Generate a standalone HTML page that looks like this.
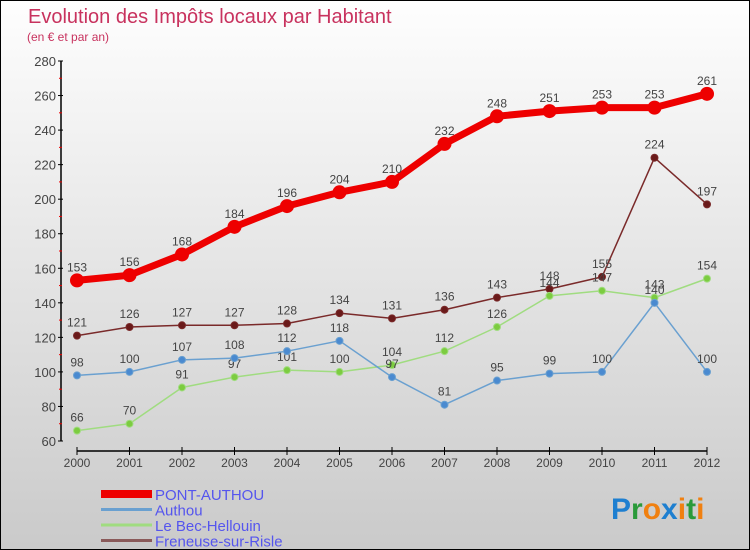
<!DOCTYPE html>
<html><head><meta charset="utf-8"><style>
body{margin:0}
#c{width:750px;height:550px;position:relative;box-sizing:border-box;border:1px solid #000;background:linear-gradient(#fefefe,#cacaca);font-family:"Liberation Sans",sans-serif;overflow:hidden}
svg{position:absolute;left:0;top:0}
</style></head><body>
<div id="c">
<svg id="s" width="750" height="550">
<text x="27" y="22" font-size="20" fill="#c8325e">Evolution des Impôts locaux par Habitant</text>
<text x="26" y="40" font-size="12" fill="#c8325e">(en € et par an)</text>
<text x="610" y="518" font-size="30" font-weight="bold"><tspan fill="#1e7fd0">P</tspan><tspan fill="#2a9a3a">r</tspan><tspan fill="#f08010">o</tspan><tspan fill="#1e7fd0">x</tspan><tspan fill="#f08010">i</tspan><tspan fill="#2a9a3a">t</tspan><tspan fill="#f08010">i</tspan></text>
</svg>
</div>
<script>
const years=[2000,2001,2002,2003,2004,2005,2006,2007,2008,2009,2010,2011,2012];
const yTicks=[60,80,100,120,140,160,180,200,220,240,260,280];
const pontAuthou=[153,156,168,184,196,204,210,232,248,251,253,253,261];
const authou=[98,100,107,108,112,118,97,81,95,99,100,140,100];
const becHellouin=[66,70,91,97,101,100,104,112,126,144,147,143,154];
const freneuse=[121,126,127,127,128,134,131,136,143,148,155,224,197];
const NS='http://www.w3.org/2000/svg';
const s=document.getElementById('s');
const X=i=>76+i*52.5;
const Y=v=>440-(v-60)*380/220;
function el(t,a,p){const e=document.createElementNS(NS,t);for(const k in a)e.setAttribute(k,a[k]);(p||s).appendChild(e);return e;}
// axes
let ax=el('line',{x1:60,y1:Y(280),x2:60,y2:440,stroke:'#000','stroke-width':1.5});


yTicks.forEach(v=>{el('line',{x1:57,x2:62,y1:Y(v),y2:Y(v),stroke:'#000'});
 const t=el('text',{x:55,y:Y(v)+5,'font-size':13,fill:'#444','text-anchor':'end'});t.textContent=v;
 
 
 if(v<280)el('line',{x1:58,x2:61,y1:Y(v+10),y2:Y(v+10),stroke:'#e00'});});
let xa=el('line',{x1:76,y1:450,x2:706,y2:450,stroke:'#000','stroke-width':1.5});


years.forEach((y,i)=>{el('line',{x1:X(i),x2:X(i),y1:446,y2:454,stroke:'#000'});
 const t=el('text',{x:X(i),y:466,'font-size':12,fill:'#444','text-anchor':'middle'});t.textContent=y;
 
 });
function series(data,color,dot,lw,r,name){
 const g=el('g',{});
 
 
 el('polyline',{points:data.map((v,i)=>X(i)+','+Y(v)).join(' '),fill:'none',stroke:color,'stroke-width':lw,'stroke-linejoin':'round'},g);
 data.forEach((v,i)=>{const c=el('circle',{cx:X(i),cy:Y(v),r:r,fill:dot,stroke:color,'stroke-width':1},g);
  
  
  const t=el('text',{x:X(i),y:Y(v)-9,'font-size':12,fill:'#444','text-anchor':'middle'},g);t.textContent=v;
  
  });
}
series(freneuse,'#7a2a2a','#6a1a1a',1.5,3.5,'freneuse-series');
series(becHellouin,'#a0dc80','#7ccc40',1.5,3.5,'bec-hellouin-series');
series(authou,'#6aa0d0','#4a8ad0',1.5,3.5,'authou-series');
series(pontAuthou,'#ee0000','#ee0000',7,6.5,'pont-authou-series');
const legend=[['PONT-AUTHOU','#ee0000',8],['Authou','#6aa0d0',3],['Le Bec-Hellouin','#a0dc80',3],['Freneuse-sur-Risle','#8a5a5a',3]];
legend.forEach((l,i)=>{const y=493+i*15.5;
 const g=el('g',{});
 
 
 el('line',{x1:100,x2:151,y1:y,y2:y,stroke:l[1],'stroke-width':l[2]},g);
 const t=el('text',{x:154,y:y+6,'font-size':15,fill:'#5555ee'},g);t.textContent=l[0];});
</script>
</body></html>
